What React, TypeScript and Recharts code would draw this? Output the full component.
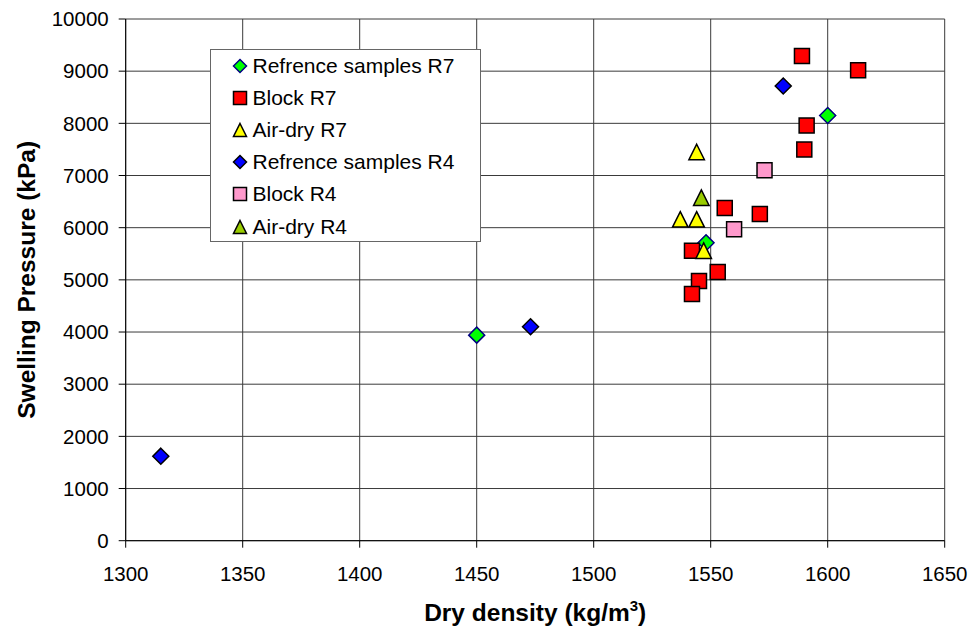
import React from 'react';
import { ScatterChart, Scatter, XAxis, YAxis, CartesianGrid } from 'recharts';

const refR7Density = [1450, 1548, 1600];
const refR7Pressure = [3940, 5710, 8150];
const blockR7Density = [1589, 1613, 1591, 1590, 1556, 1571, 1542, 1553, 1545, 1542];
const blockR7Pressure = [9290, 9020, 7960, 7500, 6375, 6260, 5560, 5150, 4980, 4730];
const airR7Density = [1544, 1537, 1544, 1547];
const airR7Pressure = [7450, 6160, 6160, 5560];
const refR4Density = [1315, 1473, 1581];
const refR4Pressure = [1620, 4100, 8715];
const blockR4Density = [1573, 1560];
const blockR4Pressure = [7100, 5970];
const airR4Density = [1546];
const airR4Pressure = [6575];

const xTicks = [1300, 1350, 1400, 1450, 1500, 1550, 1600, 1650];
const yTicks = [0, 1000, 2000, 3000, 4000, 5000, 6000, 7000, 8000, 9000, 10000];

const seriesNames = [
  'Refrence samples R7',
  'Block R7',
  'Air-dry R7',
  'Refrence samples R4',
  'Block R4',
  'Air-dry R4',
];

const zip = (xs: number[], ys: number[]) => xs.map((x, i) => ({ x, y: ys[i] }));

const FONT = '"Liberation Sans", Arial, Helvetica, sans-serif';

type Kind = 'diamond' | 'square' | 'triangle';

const markerPath = (kind: Kind, cx: number, cy: number, s: number) => {
  const h = s / 2;
  if (kind === 'diamond') return `M${cx},${cy - h}L${cx + h},${cy}L${cx},${cy + h}L${cx - h},${cy}Z`;
  if (kind === 'square') return `M${cx - h},${cy - h}H${cx + h}V${cy + h}H${cx - h}Z`;
  return `M${cx},${cy - h}L${cx + h},${cy + h}L${cx - h},${cy + h}Z`;
};

const series = [
  { name: seriesNames[0], data: zip(refR7Density, refR7Pressure), kind: 'diamond' as Kind, fill: '#00FF00', stroke: '#000080', size: 16 },
  { name: seriesNames[1], data: zip(blockR7Density, blockR7Pressure), kind: 'square' as Kind, fill: '#FF0000', stroke: '#000000', size: 15 },
  { name: seriesNames[2], data: zip(airR7Density, airR7Pressure), kind: 'triangle' as Kind, fill: '#FFFF00', stroke: '#000000', size: 15.5 },
  { name: seriesNames[3], data: zip(refR4Density, refR4Pressure), kind: 'diamond' as Kind, fill: '#0000FF', stroke: '#000000', size: 16 },
  { name: seriesNames[4], data: zip(blockR4Density, blockR4Pressure), kind: 'square' as Kind, fill: '#FF99CC', stroke: '#000000', size: 15 },
  { name: seriesNames[5], data: zip(airR4Density, airR4Pressure), kind: 'triangle' as Kind, fill: '#99CC00', stroke: '#000000', size: 15.5 },
];

const makeShape = (kind: Kind, fill: string, stroke: string, size: number) => (props: any) => {
  const { cx, cy } = props;
  if (cx == null || cy == null) return null;
  return <path d={markerPath(kind, cx, cy, size)} fill={fill} stroke={stroke} strokeWidth={1.5} />;
};

const LegendBox = () => (
  <div
    style={{
      position: 'absolute',
      left: 210,
      top: 49,
      width: 271,
      height: 193,
      boxSizing: 'border-box',
      border: '1px solid #666',
      background: '#fff',
      fontFamily: FONT,
    }}
  >
    {series.map((s, i) => (
      <div
        key={s.name}
        style={{
          position: 'absolute',
          left: 0,
          top: 17 + i * 32.1 - 14 - 1,
          height: 28,
          display: 'flex',
          alignItems: 'center',
        }}
      >
        <svg width={44} height={28} style={{ display: 'block' }}>
          <path d={markerPath(s.kind, 29, 14, 13)} fill={s.fill} stroke={s.stroke} strokeWidth={1.5} />
        </svg>
        <span style={{ fontSize: 21, color: '#000', marginLeft: -2.5, whiteSpace: 'nowrap' }}>{s.name}</span>
      </div>
    ))}
  </div>
);

const YTitle = (props: any) => {
  const vb = props.viewBox || { x: 0, y: 19, width: 126, height: 522 };
  const cx = vb.x + 27;
  const cy = vb.y + vb.height / 2;
  return (
    <text
      x={cx}
      y={cy}
      transform={`rotate(-90, ${cx}, ${cy})`}
      textAnchor="middle"
      dominantBaseline="central"
      fontFamily={FONT}
      fontWeight="bold"
      fontSize={24.5}
      fill="#000"
    >
      Swelling Pressure (kPa)
    </text>
  );
};

const XTitle = (props: any) => {
  const vb = props.viewBox || { x: 126, y: 541, width: 819, height: 89 };
  const cx = vb.x + vb.width / 2;
  const by = vb.y + 80;
  return (
    <text x={cx} y={by} textAnchor="middle" fontFamily={FONT} fontWeight="bold" fontSize={24.5} fill="#000">
      Dry density (kg/m
      <tspan dy={-10} fontSize={15}>3</tspan>
      <tspan dy={10}>)</tspan>
    </text>
  );
};

export default function App() {
  return (
    <div style={{ width: 971, height: 630, background: '#fff', position: 'relative' }}>
      <style>{`body{margin:0;background:#fff;}`}</style>
      <ScatterChart width={971} height={630} margin={{ top: 19, right: 26.3, left: 0, bottom: 0 }}>
        <CartesianGrid stroke="#3a3a3a" strokeWidth={1} horizontalValues={yTicks} verticalValues={xTicks} />
        <XAxis
          type="number"
          dataKey="x"
          domain={[1300, 1650]}
          ticks={xTicks}
          allowDataOverflow
          height={89.3}
          tickSize={7}
          tickMargin={19}
          axisLine={{ stroke: '#000' }}
          tickLine={{ stroke: '#000' }}
          tick={{ fontSize: 20.5, fontFamily: FONT, fill: '#000' }}
          label={<XTitle />}
        />
        <YAxis
          type="number"
          dataKey="y"
          domain={[0, 10000]}
          ticks={yTicks}
          allowDataOverflow
          width={125.7}
          tickSize={7}
          tickMargin={10}
          axisLine={{ stroke: '#000' }}
          tickLine={{ stroke: '#000' }}
          tick={{ fontSize: 20.5, fontFamily: FONT, fill: '#000' }}
          label={<YTitle />}
        />
        {series.map((s) => (
          <Scatter
            key={s.name}
            name={s.name}
            data={s.data}
            isAnimationActive={false}
            shape={makeShape(s.kind, s.fill, s.stroke, s.size)}
          />
        ))}
      </ScatterChart>
      <LegendBox />
    </div>
  );
}
